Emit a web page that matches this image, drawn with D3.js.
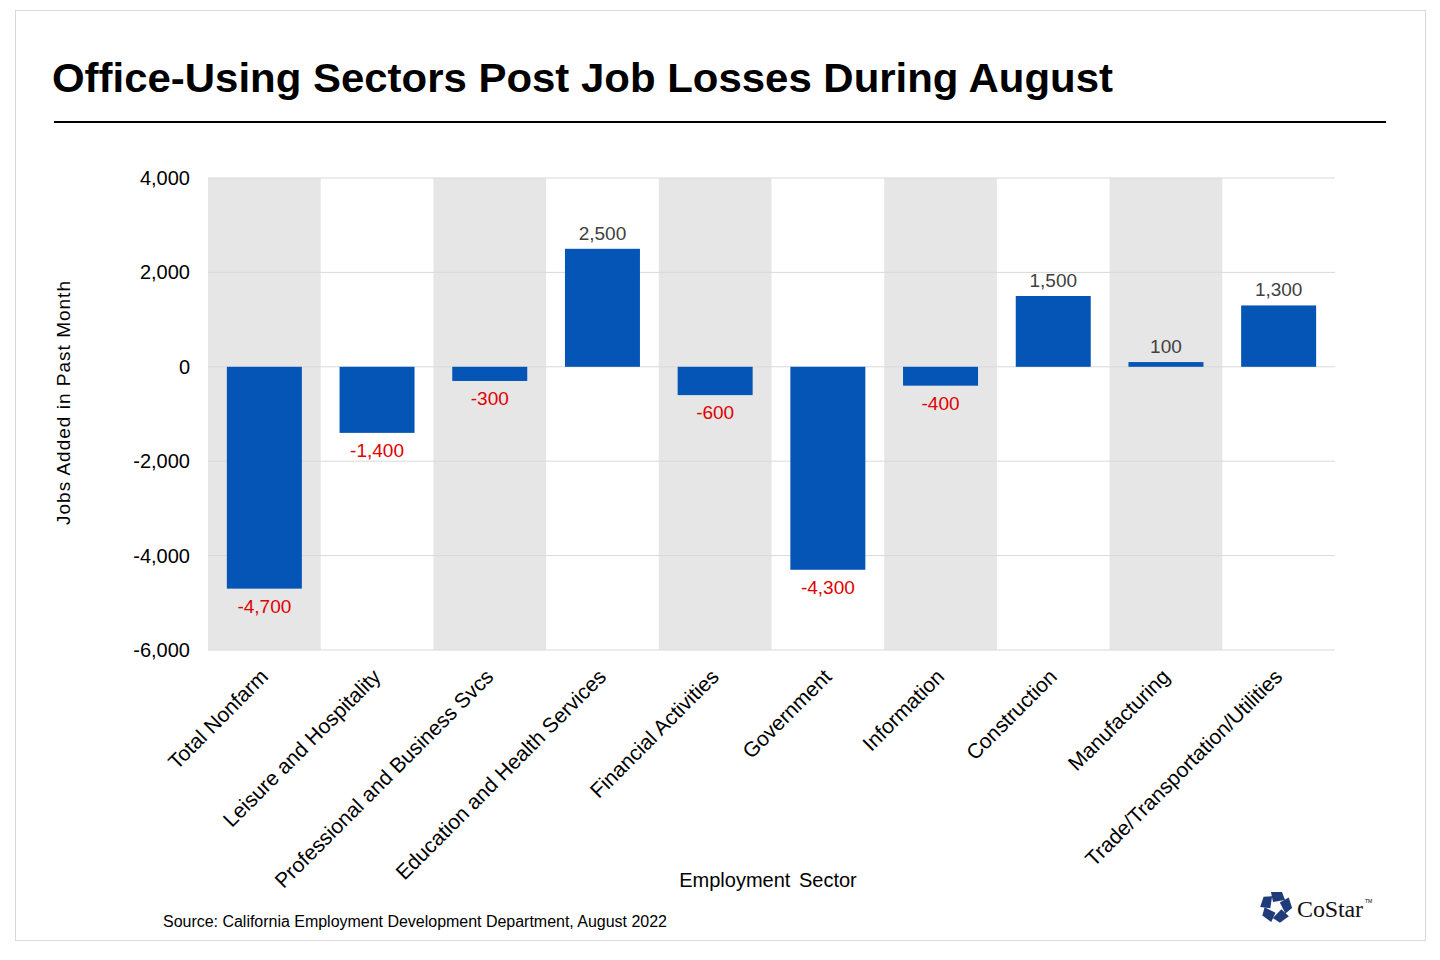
<!DOCTYPE html>
<html><head><meta charset="utf-8">
<script src="https://cdn.jsdelivr.net/npm/d3@7"></script>
<style>body{margin:0;background:#fff}text{font-family:Arial,"Liberation Sans",sans-serif}</style>
</head><body><svg id="c" width="1440" height="960"></svg>
<script>
const sectors = ["Total Nonfarm","Leisure and Hospitality","Professional and Business Svcs","Education and Health Services","Financial Activities","Government","Information","Construction","Manufacturing","Trade/Transportation/Utilities"];
const jobs = [-4700,-1400,-300,2500,-600,-4300,-400,1500,100,1300];
const yTicks = [-6000,-4000,-2000,0,2000,4000];

const svg = d3.select('#c');
svg.append('rect').attr('x',15.5).attr('y',10.5).attr('width',1410).attr('height',930)
  .attr('fill','none').attr('stroke','#d9d9d9');
svg.append('text').attr('x',52).attr('y',92).attr('font-size',40).attr('font-weight','bold')
  .attr('textLength',1061).attr('lengthAdjust','spacingAndGlyphs')
  .text('Office-Using Sectors Post Job Losses During August');
svg.append('line').attr('x1',54).attr('x2',1386).attr('y1',122).attr('y2',122).attr('stroke','#000').attr('stroke-width',2);

const x = d3.scaleBand().domain(sectors).range([208,1335]);
const y = d3.scaleLinear().domain([-6000,4000]).range([650,178]);
const fmt = v => d3.format(',')(v).replace('\u2212','-');

svg.selectAll('rect.band').data(sectors.filter((d,i)=>i%2===0)).enter().append('rect')
  .attr('x',d=>x(d)).attr('width',x.bandwidth()).attr('y',y(4000)).attr('height',y(-6000)-y(4000))
  .attr('fill','#e7e6e6');
svg.selectAll('line.grid').data(yTicks).enter().append('line')
  .attr('x1',208).attr('x2',1335).attr('y1',d=>y(d)).attr('y2',d=>y(d))
  .attr('stroke','#d9d9d9').attr('stroke-width',1);
svg.selectAll('text.yt').data(yTicks).enter().append('text')
  .attr('x',190).attr('y',d=>y(d)+7).attr('text-anchor','end').attr('font-size',20).text(fmt);

const bw = 75;
svg.selectAll('rect.bar').data(jobs).enter().append('rect')
  .attr('x',(d,i)=>x(sectors[i])+(x.bandwidth()-bw)/2).attr('width',bw)
  .attr('y',d=>y(Math.max(0,d))).attr('height',d=>Math.abs(y(d)-y(0)))
  .attr('fill','#0455b5');
svg.selectAll('text.val').data(jobs).enter().append('text')
  .attr('x',(d,i)=>x(sectors[i])+x.bandwidth()/2)
  .attr('y',d=>d<0?y(d)+24:y(d)-9)
  .attr('text-anchor','middle').attr('font-size',19)
  .attr('fill',d=>d<0?'#e00000':'#404040').text(fmt);

svg.selectAll('text.cat').data(sectors).enter().append('text')
  .attr('transform',d=>`translate(${x(d)+x.bandwidth()/2+5},${678}) rotate(-45)`)
  .attr('text-anchor','end').attr('font-size',21).text(d=>d);

svg.append('text').attr('x',768).attr('y',887).attr('text-anchor','middle').attr('font-size',20)
  .attr('word-spacing',3).text('Employment Sector');
svg.append('text').attr('transform','translate(70,403) rotate(-90)').attr('text-anchor','middle')
  .attr('font-size',19).attr('textLength',244).text('Jobs Added in Past Month');
svg.append('text').attr('x',163).attr('y',927).attr('font-size',16)
  .attr('textLength',504).text('Source: California Employment Development Department, August 2022');

const lg = svg.append('g').attr('transform','translate(1276,907)');
for(let k=0;k<5;k++){
  lg.append('path').attr('d','M-5,-15 L6,-15 L9,-7 L-3,-5 Z').attr('fill','#1f3b7a')
    .attr('transform',`rotate(${k*72})`);
}
svg.append('text').attr('x',1297).attr('y',917).style('font-family','"Liberation Serif",serif')
  .attr('font-size',24).attr('fill','#111').attr('textLength',66).text('CoStar');
svg.append('text').attr('x',1365).attr('y',903).attr('font-size',5).text('TM');
</script></body></html>
